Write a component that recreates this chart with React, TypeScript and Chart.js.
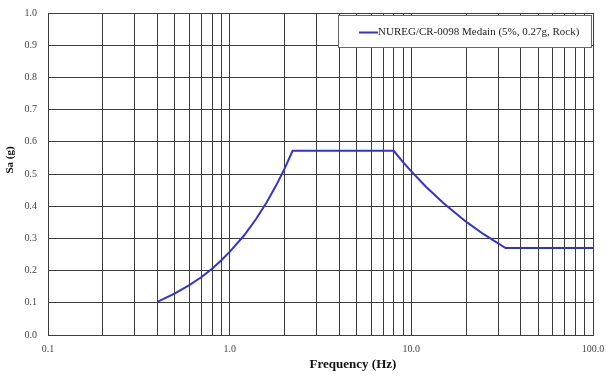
import React, { useEffect, useRef } from "react";
import { Chart, registerables } from "chart.js";

Chart.register(...registerables);

const freqs = [0.4, 0.5, 0.6, 0.7, 0.8, 0.9, 1.0, 1.2, 1.4, 1.6, 1.8, 2.0, 2.22, 8.0, 9.0, 10.0, 12.0, 15.0, 20.0, 25.0, 33.0, 100.0];
const saValues = [0.103, 0.129, 0.155, 0.18, 0.206, 0.232, 0.258, 0.309, 0.361, 0.412, 0.464, 0.515, 0.572, 0.572, 0.537, 0.508, 0.461, 0.41, 0.352, 0.313, 0.27, 0.27];
const xGridValues = [0.1, 0.2, 0.3, 0.4, 0.5, 0.6, 0.7, 0.8, 0.9, 1, 2, 3, 4, 5, 6, 7, 8, 9, 10, 20, 30, 40, 50, 60, 70, 80, 90, 100];
const xLabelValues = [0.1, 1, 10, 100];
const xLabelTexts = ["0.1", "1.0", "10.0", "100.0"];
const seriesName = "NUREG/CR-0098 Medain (5%, 0.27g, Rock)";
const xTitle = "Frequency (Hz)";
const yTitle = "Sa (g)";

const SERIF = '"Liberation Serif", "Times New Roman", serif';
const GRID = "#3c3c3c";
const LINE = "#3232d2";

const overlay = {
  id: "overlay",
  afterDatasetsDraw(chart: any) {
    const ctx = chart.ctx;
    ctx.save();
    const lx = 338, ly = 15, lw = 253, lh = 32;
    ctx.fillStyle = "#ffffff";
    ctx.fillRect(lx, ly, lw, lh);
    ctx.strokeStyle = "#666666";
    ctx.lineWidth = 1;
    ctx.strokeRect(lx + 0.5, ly + 0.5, lw, lh);
    ctx.strokeStyle = LINE;
    ctx.lineWidth = 2;
    ctx.beginPath();
    ctx.moveTo(359, 32.5);
    ctx.lineTo(378, 32.5);
    ctx.stroke();
    ctx.fillStyle = "#222222";
    ctx.font = "11px " + SERIF;
    ctx.textBaseline = "middle";
    ctx.textAlign = "left";
    ctx.fillText(seriesName, 378, 32);
    ctx.font = "bold 13px " + SERIF;
    ctx.textAlign = "center";
    ctx.fillStyle = "#111111";
    ctx.fillText(xTitle, 353, 365);
    ctx.translate(10, 160);
    ctx.rotate(-Math.PI / 2);
    ctx.font = "bold 11px " + SERIF;
    ctx.fillText(yTitle, 0, 0);
    ctx.restore();
  },
};

export default function App() {
  const ref = useRef<HTMLCanvasElement>(null);
  useEffect(() => {
    document.body.style.margin = "0";
    const canvas = ref.current!;
    const chart = new Chart(canvas, {
      type: "line",
      data: {
        datasets: [
          {
            label: seriesName,
            data: freqs.map((f, i) => ({ x: f, y: saValues[i] })),
            borderColor: LINE,
            borderWidth: 2,
            pointRadius: 0,
            tension: 0,
            fill: false,
          },
        ],
      },
      options: {
        animation: false,
        responsive: false,
        devicePixelRatio: 1,
        layout: { padding: { left: 0, right: 13, top: 13, bottom: 0 } },
        plugins: { legend: { display: false }, tooltip: { enabled: false } },
        scales: {
          x: {
            type: "logarithmic",
            min: 0.1,
            max: 100,
            afterBuildTicks: (scale: any) => {
              scale.ticks = xGridValues.map((v) => ({ value: v }));
            },
            afterFit: (scale: any) => {
              scale.height = 41;
              scale.paddingLeft = 0;
              scale.paddingRight = 0;
            },
            ticks: {
              autoSkip: false,
              maxRotation: 0,
              minRotation: 0,
              padding: 8,
              color: "#444444",
              font: { family: SERIF, size: 10 },
              callback: (v: any) => {
                const idx = xLabelValues.findIndex((t) => Math.abs(t - Number(v)) < 1e-9);
                return idx >= 0 ? xLabelTexts[idx] : "";
              },
            },
            grid: { color: GRID, lineWidth: 1, drawTicks: false },
            border: { color: GRID, width: 1 },
          },
          y: {
            type: "linear",
            min: 0,
            max: 1,
            afterFit: (scale: any) => {
              scale.width = 48;
              scale.paddingTop = 0;
              scale.paddingBottom = 0;
            },
            ticks: {
              stepSize: 0.1,
              padding: 11,
              color: "#444444",
              font: { family: SERIF, size: 10 },
              callback: (v: any) => Number(v).toFixed(1),
            },
            grid: { color: GRID, lineWidth: 1, drawTicks: false },
            border: { color: GRID, width: 1 },
          },
        },
      },
      plugins: [overlay],
    });
    return () => chart.destroy();
  }, []);
  return <canvas ref={ref} width={606} height={376} style={{ display: "block" }} />;
}
